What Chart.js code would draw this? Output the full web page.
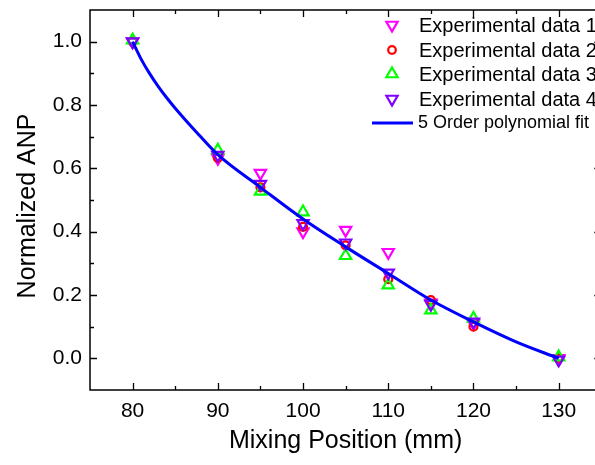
<!DOCTYPE html>
<html>
<head>
<meta charset="utf-8">
<script src="https://cdn.jsdelivr.net/npm/chart.js@4.4.0/dist/chart.umd.min.js"></script>
<style>
  html, body { margin: 0; padding: 0; background: #fff; }
  #wrap { width: 595px; height: 465px; overflow: hidden; }
</style>
</head>
<body>
<div id="wrap"><canvas id="chart1" width="610" height="465"></canvas></div>
<script>
// mixing positions (mm)
var posiciones = [80, 90, 95, 100, 105, 110, 115, 120, 130];
var datos1 = [1.0, 0.632, 0.585, 0.400, 0.405, 0.335, 0.175, 0.110, 0.0];
var datos2 = [1.0, 0.633, 0.540, 0.415, 0.357, 0.250, 0.184, 0.100, 0.0];
var datos3 = [1.005, 0.657, 0.527, 0.462, 0.324, 0.231, 0.152, 0.126, 0.004];
var datos4 = [1.0, 0.642, 0.550, 0.426, 0.365, 0.270, 0.171, 0.115, -0.005];
// fit curve
var ajusteX = [80, 81, 82, 83, 84, 85, 87.5, 90, 95, 100, 105, 110, 115, 120, 125, 130];
var ajusteY = [1.0, 0.945, 0.899, 0.859, 0.823, 0.79, 0.714, 0.643, 0.54, 0.44, 0.352, 0.268, 0.184, 0.115, 0.052, 0.0];
var ticksX = [80, 90, 100, 110, 120, 130];
var ticksY = [0.0, 0.2, 0.4, 0.6, 0.8, 1.0];
var etiquetas = ["Experimental data 1", "Experimental data 2", "Experimental data 3", "Experimental data 4", "5 Order polynomial fit"];

var fuente = "Arial, 'Liberation Sans', sans-serif";

function puntos(xs, ys){
	var r = [];
	for (var i = 0; i < xs.length; i++) r.push({x: xs[i], y: ys[i]});
	return r;
}

function serie(label, ys, color, estilo, rot, radio, orden){
	return {
		type: "scatter",
		label: label,
		data: puntos(posiciones, ys),
		borderColor: color,
		backgroundColor: "rgba(0,0,0,0)",
		pointStyle: estilo,
		rotation: rot,
		pointRadius: radio,
		pointBorderWidth: 2.2,
		showLine: false,
		order: orden
	};
}

function marcador(ctx, estilo, x, y, r, rot){
	ctx.save();
	ctx.translate(x, y);
	ctx.rotate(rot * Math.PI / 180);
	ctx.beginPath();
	if (estilo == "circle") {
		ctx.arc(0, 0, r, 0, Math.PI * 2);
	} else {
		for (var k = 0; k < 3; k++) {
			var a = k * 2 * Math.PI / 3;
			var px = Math.sin(a) * r, py = -Math.cos(a) * r;
			if (k == 0) ctx.moveTo(px, py); else ctx.lineTo(px, py);
		}
		ctx.closePath();
	}
	ctx.stroke();
	ctx.restore();
}

var marco = {
	id: "marco",
	afterDraw: function(chart){
		var ctx = chart.ctx;
		var a = chart.chartArea;
		var sx = chart.scales.x, sy = chart.scales.y;
		ctx.save();
		ctx.strokeStyle = "#000";
		ctx.lineWidth = 1.5;
		ctx.strokeRect(a.left, a.top, a.right - a.left, a.bottom - a.top);
		ctx.lineWidth = 1.3;
		ctx.beginPath();
		for (var v = 80; v <= 130; v += 5) {
			var px = Math.round(sx.getPixelForValue(v)) + 0.5;
			var l = (v % 10 == 0) ? 7 : 4;
			ctx.moveTo(px, a.bottom); ctx.lineTo(px, a.bottom - l);
			ctx.moveTo(px, a.top); ctx.lineTo(px, a.top + l);
		}
		for (var j = 0; j <= 10; j++) {
			var py = Math.round(sy.getPixelForValue(j / 10)) + 0.5;
			var l2 = (j % 2 == 0) ? 7 : 4;
			ctx.moveTo(a.left, py); ctx.lineTo(a.left + l2, py);
			ctx.moveTo(a.right, py); ctx.lineTo(a.right - l2, py);
		}
		ctx.stroke();

		// axis titles
		ctx.fillStyle = "#000";
		ctx.font = "25px " + fuente;
		ctx.textAlign = "center";
		ctx.textBaseline = "middle";
		ctx.fillText("Mixing Position (mm)", (a.left + a.right) / 2, 441);
		ctx.save();
		ctx.translate(28, 206);
		ctx.rotate(-Math.PI / 2);
		ctx.fillText("Normalized ANP", 0, 0);
		ctx.restore();

		// legend
		var filas = [25, 50, 74, 99];
		var ds = chart.data.datasets;
		ctx.textAlign = "left";
		ctx.font = "20px " + fuente;
		for (var i = 0; i < 4; i++) {
			ctx.strokeStyle = ds[i].borderColor;
			ctx.lineWidth = 2.2;
			marcador(ctx, ds[i].pointStyle, 392, filas[i], ds[i].pointStyle == "circle" ? 3.8 : 6.5, ds[i].rotation);
			ctx.fillStyle = "#000";
			ctx.fillText(etiquetas[i], 419, filas[i] + 1);
		}
		ctx.strokeStyle = "#0000FF";
		ctx.lineWidth = 3;
		ctx.beginPath();
		ctx.moveTo(372, 123); ctx.lineTo(413, 123);
		ctx.stroke();
		ctx.font = "18px " + fuente;
		ctx.fillText(etiquetas[4], 418, 123);
		ctx.restore();
	}
};

function init(){
	var datos = {
		data: {
			datasets: [
				serie(etiquetas[0], datos1, "#FF00FF", "triangle", 180, 6.5, 4),
				serie(etiquetas[1], datos2, "#FF0000", "circle", 0, 4, 3),
				serie(etiquetas[2], datos3, "#00FF00", "triangle", 0, 6.5, 2),
				serie(etiquetas[3], datos4, "#8000FF", "triangle", 180, 6.5, 1),
				{
					type: "line",
					label: etiquetas[4],
					data: puntos(ajusteX, ajusteY),
					borderColor: "#0000FF",
					borderWidth: 3,
					pointRadius: 0,
					fill: false,
					cubicInterpolationMode: "monotone",
					order: 0
				}
			]
		},
		options: {
			responsive: false,
			animation: false,
			devicePixelRatio: 1,
			layout: { padding: { top: 10, right: 8, left: 0, bottom: 0 } },
			plugins: { legend: { display: false }, tooltip: { enabled: false } },
			scales: {
				x: {
					type: "linear",
					min: 75,
					max: 135,
					grid: { display: false, drawTicks: false },
					border: { display: false },
					afterBuildTicks: function(s){ s.ticks = ticksX.map(function(v){ return {value: v}; }); },
					afterFit: function(s){ s.height = 75; s.paddingLeft = 0; s.paddingRight = 0; },
					ticks: {
						color: "#000",
						padding: 9,
						maxRotation: 0,
						font: { family: fuente, size: 21 },
						callback: function(v){ return v; }
					}
				},
				y: {
					type: "linear",
					min: -0.1,
					max: 1.1,
					grid: { display: false, drawTicks: false },
					border: { display: false },
					afterBuildTicks: function(s){ s.ticks = ticksY.map(function(v){ return {value: v}; }); },
					afterFit: function(s){ s.width = 90; s.paddingTop = 0; s.paddingBottom = 0; },
					ticks: {
						color: "#000",
						padding: 8,
						font: { family: fuente, size: 21 },
						callback: function(v){ return v.toFixed(1); }
					}
				}
			}
		},
		plugins: [marco]
	};
	var canvas = document.getElementById("chart1").getContext("2d");
	window.grafico = new Chart(canvas, datos);
}

init();
</script>
</body>
</html>
